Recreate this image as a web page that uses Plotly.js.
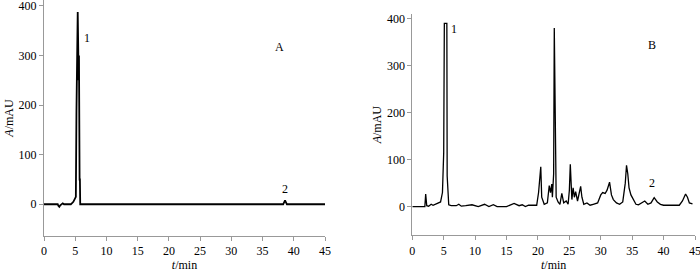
<!DOCTYPE html>
<html><head><meta charset="utf-8">
<script src="https://cdn.plot.ly/plotly-3.0.1.min.js"></script>
<style>html,body{margin:0;padding:0;background:#fff}#c{width:700px;height:272px}</style>
</head><body><div id="c"></div>
<script>
// Chromatogram A (standard)
const tA = [0,2.2,2.3,2.45,2.6,2.8,3.0,3.2,4.3,4.7,5.1,5.2,5.3,5.4,5.5,5.55,5.6,5.7,5.75,5.8,6.0,38.3,38.6,38.9,45];
const aA = [0,0,-3,-5,-2,0,2,0,0,5,15,190,300,388,300,250,300,50,50,0,0,0,8,0,0];
// Chromatogram B (sample)
const tB = [0,2.0,2.13,2.3,2.6,3.0,3.3,3.6,4.0,4.5,4.8,5.0,5.1,5.15,5.5,5.55,5.65,5.8,6.2,7.0,7.4,7.8,8.5,9.5,10.5,11.5,12.2,12.9,13.5,15.0,16.2,17.0,17.5,18.0,18.5,19.8,20.1,20.3,20.45,20.6,21.0,21.5,21.8,22.0,22.2,22.3,22.5,22.6,22.75,22.9,23.2,23.5,23.8,24.1,24.5,24.8,25.0,25.15,25.4,25.6,25.8,26.0,26.3,26.6,26.8,27.0,27.3,27.8,28.3,28.8,29.5,30.0,30.3,30.7,31.0,31.4,31.7,32.0,32.5,33.0,33.5,33.9,34.1,34.3,34.5,34.8,35.2,35.6,36.0,36.5,37.0,37.5,38.0,38.5,39.0,39.5,40.0,42.5,43.0,43.5,43.8,44.1,44.6];
const aB = [0,0,27,2,1,5,3,5,6,10,30,115,390,390,390,65,20,4,2,2,5,1,2,4,0,5,0,4,0,0,7,2,4,0,3,3,30,65,85,20,5,8,45,30,48,20,70,380,195,20,10,5,28,8,12,5,35,90,15,40,20,32,12,30,43,20,5,8,3,5,8,25,30,28,35,52,25,15,8,5,10,50,88,70,40,25,15,5,4,8,12,5,8,19,10,5,3,3,12,27,20,8,6];
const yTicks = [0,100,200,300,400];
const xTicks = [0,5,10,15,20,25,30,35,40,45];

const serif = "Liberation Serif, Times New Roman, serif";
const axX = (dom, anchor) => ({domain: dom, anchor: anchor, range:[0,45], tickvals:xTicks, ticktext:xTicks.map(String),
  showline:true, linecolor:'#999', linewidth:1, ticks:'outside', ticklen:4, tickcolor:'#999', showgrid:false, zeroline:false,
  ticklabeloverflow:'allow',
  tickfont:{family:serif,size:12,color:'#000'}, title:{text:'<i>t</i>/min', font:{family:serif,size:12,color:'#000'}, standoff:4}, automargin:false});
const axY = (dom, anchor, rng) => ({domain: dom, anchor: anchor, range:rng, tickvals:yTicks, ticktext:yTicks.map(String),
  showline:true, linecolor:'#999', linewidth:1, ticks:'outside', ticklen:4, tickcolor:'#999', showgrid:false, zeroline:false,
  ticklabeloverflow:'allow',
  tickfont:{family:serif,size:12,color:'#000'}, title:{text:'<i>A</i>/mAU', font:{family:serif,size:12,color:'#000'}, standoff:2}, automargin:false});

const data = [
  {x:tA, y:aA, xaxis:'x', yaxis:'y', type:'scatter', mode:'lines', line:{color:'#000', width:1.8}, hoverinfo:'none'},
  {x:tB, y:aB, xaxis:'x2', yaxis:'y2', type:'scatter', mode:'lines', line:{color:'#000', width:1.3}, hoverinfo:'none'}
];
const ann = (xr, yr, x, y, t) => ({xref:xr, yref:yr, x:x, y:y, text:t, showarrow:false, font:{family:serif,size:12,color:'#000'}});
const layout = {
  width:700, height:272, margin:{l:0,r:0,t:0,b:0}, paper_bgcolor:'#fff', plot_bgcolor:'#fff', showlegend:false,
  xaxis: axX([44/700, 325/700], 'y'),
  yaxis: axY([36/272, 1], 'x', [-64, 412]),
  xaxis2: axX([412.3/700, 695/700], 'y2'),
  yaxis2: axY([36.7/272, 258/272], 'x2', [-61, 410]),
  annotations: [
    ann('x','y',6.9,335,'1'), ann('x','y',37.7,317,'A'), ann('x','y',38.6,30,'2'),
    ann('x2','y2',6.6,378,'1'), ann('x2','y2',38.1,343,'B'), ann('x2','y2',38.1,51,'2')
  ]
};
Plotly.newPlot('c', data, layout, {staticPlot:true});
</script></body></html>
